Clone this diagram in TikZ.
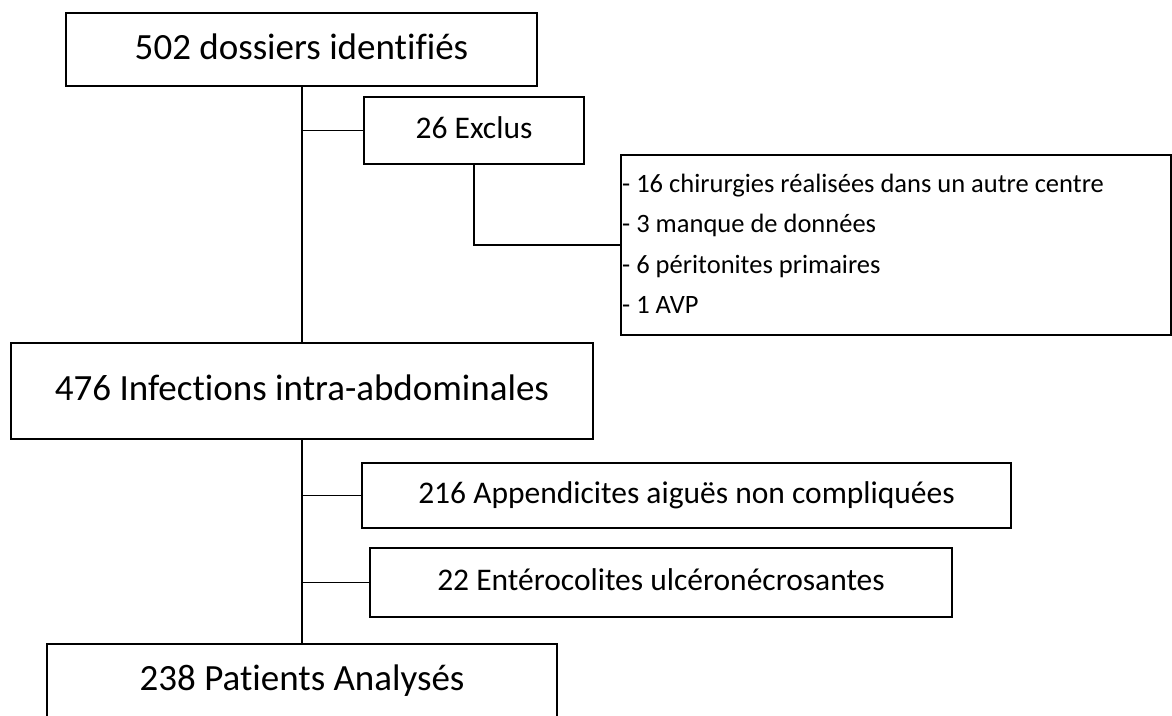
\documentclass[tikz,border=0pt]{standalone}
\usepackage{fontspec}
\setmainfont{Carlito}[RawFeature={-liga;-clig;-dlig}]
\begin{document}
\begin{tikzpicture}[x=1pt,y=-1pt,
  box/.style={draw=black,line width=1.6pt,inner sep=0pt},
  big/.style={box,font=\fontsize{37}{44}\selectfont,text height=26pt,text depth=6.8pt},
  mid/.style={box,font=\fontsize{31.5}{38}\selectfont,text height=22pt,text depth=6pt},
  item/.style={anchor=base west,inner sep=0pt,font=\fontsize{26.5}{32}\selectfont},
  link/.style={line width=1.6pt}]
\clip (0,0) rectangle (1172,715);
\useasboundingbox (0,0) rectangle (1172,715);
\node[big,minimum width=471pt,minimum height=73pt] (b1) at (301.5,49.5) {502 dossiers identifiés};
\node[mid,minimum width=220pt,minimum height=67pt] (excl) at (474,130.5) {26 Exclus};
\node[draw=black,line width=1.6pt,inner sep=0pt,minimum width=550pt,minimum height=180pt] (list) at (896,245) {};
\node[item] (l1) at (622,192) {- 16 chirurgies réalisées dans un autre centre};
\node[item] (l2) at (622,232.5) {- 3 manque de données};
\node[item] (l3) at (622,273) {- 6 péritonites primaires};
\node[item] (l4) at (622,313.5) {- 1 AVP};
\node[big,minimum width=582pt,minimum height=96pt] (b2) at (302,391) {476 Infections intra-abdominales};
\node[mid,minimum width=649pt,minimum height=65pt] (app) at (686.5,495.5) {216 Appendicites aiguës non compliquées};
\node[mid,minimum width=582pt,minimum height=69pt] (ent) at (661,582.5) {22 Entérocolites ulcéronécrosantes};
\node[big,minimum width=510pt,minimum height=73pt] (b3) at (302,680.5) {238 Patients Analysés};
\coordinate (j1) at (302,130.5);
\coordinate (j2) at (302,495.5);
\coordinate (j3) at (302,582.5);
\draw[link] (302,86) -- (302,343);
\draw[link] (j1) -- (excl.west);
\draw[link] (excl.south) |- (list.west);
\draw[link] (302,439) -- (302,644);
\draw[link] (j2) -- (app.west);
\draw[link] (j3) -- (ent.west);
\end{tikzpicture}
\end{document}
